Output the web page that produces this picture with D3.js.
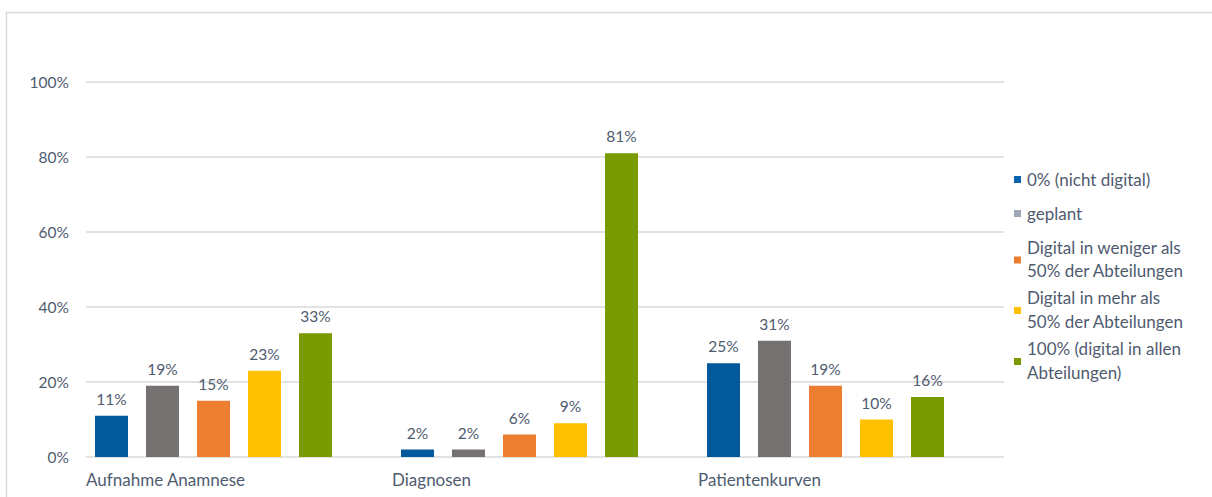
<!DOCTYPE html>
<html>
<head>
<meta charset="utf-8">
<script src="https://cdn.jsdelivr.net/npm/d3@7"></script>
<style>
  html, body { margin: 0; padding: 0; background: #fff; }
  svg { display: block; }
  text { font-family: Lato, "Open Sans", sans-serif; fill: #4f5b6f; }
</style>
</head>
<body>
<svg id="chart" width="1212" height="497"></svg>
<script>
// Anteil der Krankenhäuser nach Digitalisierungsgrad
const categories = ["Aufnahme Anamnese", "Diagnosen", "Patientenkurven"];
const seriesNames = [
  "0% (nicht digital)",
  "geplant",
  "Digital in weniger als 50% der Abteilungen",
  "Digital in mehr als 50% der Abteilungen",
  "100% (digital in allen Abteilungen)"
];
const legendLines = [
  ["0% (nicht digital)"],
  ["geplant"],
  ["Digital in weniger als", "50% der Abteilungen"],
  ["Digital in mehr als", "50% der Abteilungen"],
  ["100% (digital in allen", "Abteilungen)"]
];
const nichtDigital = [11, 2, 25];
const geplant = [19, 2, 31];
const wenigerAls50 = [15, 6, 19];
const mehrAls50 = [23, 9, 10];
const vollDigital = [33, 81, 16];
const yTicks = [0, 20, 40, 60, 80, 100];

const seriesValues = [nichtDigital, geplant, wenigerAls50, mehrAls50, vollDigital];
const barColors = ["#02599c", "#767171", "#ed7d31", "#ffc000", "#7a9a01"];
const legendColors = ["#0a62ad", "#9ea8b8", "#ed7d31", "#ffc000", "#7a9a01"];

const wordSize = 17;
const numberSize = 15.5;

const svg = d3.select("#chart");

// outer frame
svg.append("path")
  .attr("d", "M6.5,500 V12.5 H1212")
  .attr("fill", "none")
  .attr("stroke", "#d9d9d9")
  .attr("stroke-width", 1.5);

const plot = { left: 86, right: 1004, top: 82, bottom: 457 };

const y = d3.scaleLinear().domain([0, 100]).range([plot.bottom, plot.top]);
const x0 = d3.scaleBand().domain(categories).range([plot.left, plot.right]).paddingInner(0).paddingOuter(0);
// each category reserves six slots; the five series fill the first five
const slot = x0.bandwidth() / 6;
const x1 = d3.scaleBand().domain(seriesNames)
  .range([0, slot * 5])
  .paddingInner(0.353).paddingOuter(0.1765);

// gridlines
svg.append("g")
  .selectAll("line")
  .data(yTicks)
  .join("line")
  .attr("x1", plot.left).attr("x2", plot.right)
  .attr("y1", d => y(d)).attr("y2", d => y(d))
  .attr("stroke", "#d9d9d9")
  .attr("stroke-width", 1.5);

// y axis labels
const yAxis = svg.append("g")
  .attr("transform", `translate(${plot.left - 17},0)`)
  .call(d3.axisLeft(y).tickValues(yTicks).tickFormat(d => d + "%").tickSize(0).tickPadding(0));
yAxis.select(".domain").remove();
yAxis.selectAll("text")
  .attr("font-size", numberSize)
  .attr("font-family", "Lato, 'Open Sans', sans-serif")
  .attr("fill", "#4f5b6f")
  .attr("dy", "0.35em");

// category labels (left aligned in each band)
svg.append("g")
  .selectAll("text")
  .data(categories)
  .join("text")
  .attr("x", d => x0(d))
  .attr("y", 486)
  .attr("font-size", wordSize)
  .text(d => d);

// bars
const rows = [];
categories.forEach((c, ci) => {
  seriesNames.forEach((s, si) => {
    rows.push({ cat: c, series: s, si, value: seriesValues[si][ci] });
  });
});

svg.append("g")
  .selectAll("rect")
  .data(rows)
  .join("rect")
  .attr("x", d => x0(d.cat) + x1(d.series))
  .attr("y", d => y(d.value))
  .attr("width", x1.bandwidth())
  .attr("height", d => y(0) - y(d.value))
  .attr("fill", d => barColors[d.si]);

// value labels
svg.append("g")
  .selectAll("text")
  .data(rows)
  .join("text")
  .attr("x", d => x0(d.cat) + x1(d.series) + x1.bandwidth() / 2)
  .attr("y", d => y(d.value) - 11)
  .attr("text-anchor", "middle")
  .attr("font-size", numberSize)
  .text(d => d.value + "%");

// legend
const legendX = 1014;
const lineH = 23.5;
const entryY = [180, 214, 259.5, 310, 361];
const legend = svg.append("g");
legendLines.forEach((lines, i) => {
  const cy = entryY[i];
  legend.append("rect")
    .attr("x", legendX)
    .attr("y", cy - 3 + (lines.length > 1 ? 0 : -1))
    .attr("width", 7).attr("height", 7)
    .attr("fill", legendColors[i]);
  const startY = cy - (lines.length - 1) * lineH / 2;
  lines.forEach((t, j) => {
    legend.append("text")
      .attr("x", legendX + 13)
      .attr("y", startY + j * lineH)
      .attr("dy", "0.35em")
      .attr("font-size", wordSize)
      .text(t);
  });
});
</script>
</body>
</html>
